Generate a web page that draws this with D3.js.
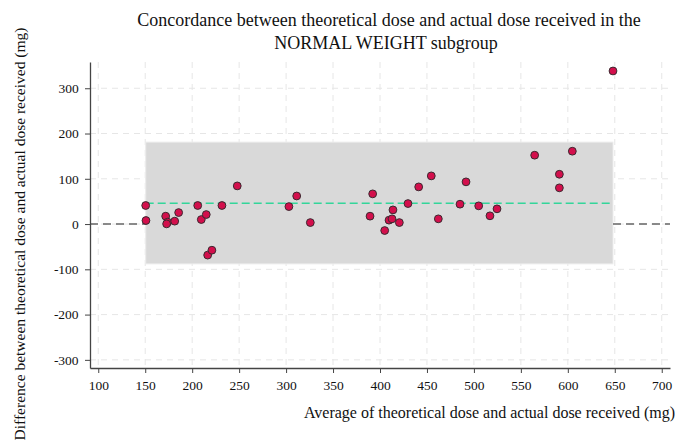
<!DOCTYPE html>
<html>
<head>
<meta charset="utf-8">
<script src="https://cdn.jsdelivr.net/npm/d3@7"></script>
<style>
  body { margin: 0; background: #fff; }
  svg text { font-family: "Liberation Serif", "Times New Roman", serif; fill: #111; }
</style>
</head>
<body>
<svg id="chart" width="677" height="443"></svg>
<script>
// average of theoretical and actual dose (mg)
const avgDose = [150.5, 150.8, 171.8, 173.9, 172.8, 181.4, 185.6, 205.9, 209.7, 215, 216.5, 221,
  231.7, 248, 303, 311.3, 325.8, 389.4, 392.2, 405, 409.6, 412.8, 413.8, 420.6, 429.8, 441.2,
  454.6, 462.1, 485.2, 491.6, 505.1, 517.1, 524.6, 564.7, 591, 591, 604.8, 648.1];
// difference between theoretical and actual dose (mg)
const diffDose = [41, 7.8, 17.4, 4.2, 0.4, 6.4, 25.4, 41, 10, 21, -68.6, -57.8,
  41, 84.3, 38.6, 62, 3.3, 17.4, 66.7, -14.3, 8.6, 11.5, 31.3, 3.3, 45.3, 82.1,
  106.4, 11.5, 43.9, 93.2, 40.2, 18.2, 33.6, 152.1, 110, 80, 160.9, 338.2];
const meanDiff = 46;
const upperLoA = 181;
const lowerLoA = -88;
const xTicks = [100, 150, 200, 250, 300, 350, 400, 450, 500, 550, 600, 650, 700];
const yTicks = [-300, -200, -100, 0, 100, 200, 300];

const svg = d3.select("#chart");
const m = { left: 90, right: 670, top: 62, bottom: 368 };

const x = d3.scaleLinear().domain([91.2, 708.8]).range([m.left, m.right]);
const y = d3.scaleLinear().domain([-318, 358]).range([m.bottom, m.top]);

// grid
svg.append("g").selectAll("line").data(xTicks).join("line")
  .attr("x1", d => x(d)).attr("x2", d => x(d))
  .attr("y1", m.top).attr("y2", m.bottom)
  .attr("stroke", "#e6e6e6").attr("stroke-dasharray", "6,5");
svg.append("g").selectAll("line").data(yTicks).join("line")
  .attr("x1", m.left).attr("x2", m.right)
  .attr("y1", d => y(d)).attr("y2", d => y(d))
  .attr("stroke", "#e6e6e6").attr("stroke-dasharray", "6,5");

const xMin = d3.min(avgDose), xMax = d3.max(avgDose);

// limits of agreement band
svg.append("rect")
  .attr("x", x(xMin)).attr("width", x(xMax) - x(xMin))
  .attr("y", y(upperLoA)).attr("height", y(lowerLoA) - y(upperLoA))
  .attr("fill", "#d9d9d9").attr("stroke", "#ececec").attr("stroke-width", 1);

// zero line, outside the band
svg.append("g").selectAll("line").data([[91.2, xMin], [xMax, 708.8]]).join("line")
  .attr("x1", d => x(d[0])).attr("x2", d => x(d[1]))
  .attr("y1", y(0)).attr("y2", y(0))
  .attr("stroke", "#666").attr("stroke-width", 1.5).attr("stroke-dasharray", "8,5");

// mean difference
svg.append("line")
  .attr("x1", x(xMin)).attr("x2", x(xMax))
  .attr("y1", y(meanDiff)).attr("y2", y(meanDiff))
  .attr("stroke", "#33d69a").attr("stroke-width", 1.6).attr("stroke-dasharray", "8,4");

// points
svg.append("g").selectAll("circle").data(avgDose).join("circle")
  .attr("cx", d => x(d)).attr("cy", (d, i) => y(diffDose[i]))
  .attr("r", 3.9)
  .attr("fill", "#d30f4c").attr("stroke", "#3a2a30").attr("stroke-width", 1);

// axes
const fmt = d => String(d);
const xAxis = svg.append("g").attr("transform", `translate(0,${m.bottom})`)
  .call(d3.axisBottom(x).tickValues(xTicks).tickFormat(fmt).tickSize(5).tickSizeOuter(0));
const yAxis = svg.append("g").attr("transform", `translate(${m.left},0)`)
  .call(d3.axisLeft(y).tickValues(yTicks).tickFormat(fmt).tickSize(5).tickSizeOuter(0));
[xAxis, yAxis].forEach(g => {
  g.attr("font-family", null);
  g.select(".domain").attr("stroke", "#444").attr("stroke-width", 1.3);
  g.selectAll(".tick line").attr("stroke", "#444");
  g.selectAll("text").attr("font-size", 13.5).attr("fill", "#111");
});
xAxis.selectAll("text").attr("dy", "1.05em");
yAxis.selectAll("text").attr("dx", "-0.25em");

// title
const title = svg.append("text").attr("text-anchor", "middle").attr("font-size", 18);
title.append("tspan").attr("x", 389).attr("y", 26)
  .text("Concordance between theoretical dose and actual dose received in the");
title.append("tspan").attr("x", 386).attr("y", 49).text("NORMAL WEIGHT subgroup");

// axis labels
svg.append("text").attr("text-anchor", "end").attr("x", 675).attr("y", 418)
  .attr("font-size", 16).text("Average of theoretical dose and actual dose received (mg)");
svg.append("text").attr("text-anchor", "middle")
  .attr("transform", "translate(25,234) rotate(-90)")
  .attr("font-size", 15.5).text("Difference between theoretical dose and actual dose received (mg)");
</script>
</body>
</html>
